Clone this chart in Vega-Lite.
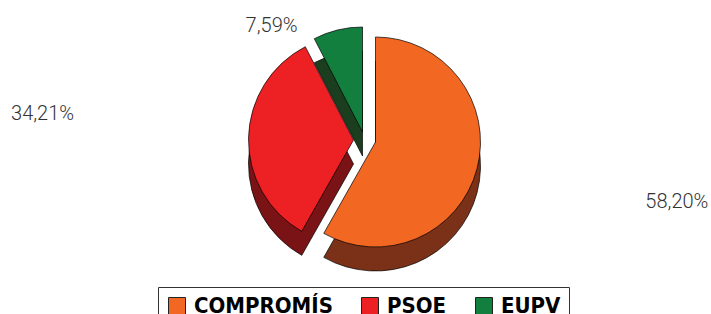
{
  "$schema": "https://vega.github.io/schema/vega-lite/v6.json",
  "autosize": {"type": "none"},
  "width": 711,
  "height": 280,
  "padding": {"left": 10, "right": 0, "top": 0, "bottom": 34},
  "background": "white",
  "data": {
    "values": [
      {"party": "COMPROMÍS", "value": 58.20, "label": "58,20%", "order": 1},
      {"party": "PSOE", "value": 34.21, "label": "34,21%", "order": 2},
      {"party": "EUPV", "value": 7.59, "label": "7,59%", "order": 3}
    ]
  },
  "transform": [
    {"stack": "value", "groupby": [], "sort": [{"field": "order"}], "as": ["t0", "t1"]}
  ],
  "layer": [
    {
      "transform": [{"filter": "datum.party == 'COMPROMÍS'"}],
      "mark": {"type": "arc", "outerRadius": 105, "fill": "#7B3118", "stroke": "black", "strokeWidth": 0.7, "xOffset": 10, "yOffset": 26},
      "encoding": {
        "theta": {"field": "t0", "type": "quantitative", "scale": {"domain": [0, 100]}},
        "theta2": {"field": "t1"}
      }
    },
    {
      "transform": [{"filter": "datum.party == 'PSOE'"}],
      "mark": {"type": "arc", "outerRadius": 105, "fill": "#7A1315", "stroke": "black", "strokeWidth": 0.7, "xOffset": -12, "yOffset": 24},
      "encoding": {
        "theta": {"field": "t0", "type": "quantitative", "scale": {"domain": [0, 100]}},
        "theta2": {"field": "t1"}
      }
    },
    {
      "transform": [{"filter": "datum.party == 'EUPV'"}],
      "mark": {"type": "arc", "outerRadius": 105, "fill": "#1B3F1E", "stroke": "black", "strokeWidth": 0.7, "xOffset": -3, "yOffset": 16},
      "encoding": {
        "theta": {"field": "t0", "type": "quantitative", "scale": {"domain": [0, 100]}},
        "theta2": {"field": "t1"}
      }
    },
    {
      "transform": [{"filter": "datum.party == 'COMPROMÍS'"}],
      "mark": {"type": "arc", "outerRadius": 105, "stroke": "black", "strokeWidth": 0.7, "xOffset": 10, "yOffset": 2},
      "encoding": {
        "theta": {"field": "t0", "type": "quantitative", "scale": {"domain": [0, 100]}},
        "theta2": {"field": "t1"},
        "color": {"field": "party", "type": "nominal", "scale": {"domain": ["COMPROMÍS", "PSOE", "EUPV"], "range": ["#F26722", "#ED2024", "#127F3E"]}, "title": null}
      }
    },
    {
      "transform": [{"filter": "datum.party == 'PSOE'"}],
      "mark": {"type": "arc", "outerRadius": 105, "stroke": "black", "strokeWidth": 0.7, "xOffset": -12, "yOffset": 0},
      "encoding": {
        "theta": {"field": "t0", "type": "quantitative", "scale": {"domain": [0, 100]}},
        "theta2": {"field": "t1"},
        "color": {"field": "party", "type": "nominal", "scale": {"domain": ["COMPROMÍS", "PSOE", "EUPV"], "range": ["#F26722", "#ED2024", "#127F3E"]}, "title": null}
      }
    },
    {
      "transform": [{"filter": "datum.party == 'EUPV'"}],
      "mark": {"type": "arc", "outerRadius": 105, "stroke": "black", "strokeWidth": 0.7, "xOffset": -3, "yOffset": -8},
      "encoding": {
        "theta": {"field": "t0", "type": "quantitative", "scale": {"domain": [0, 100]}},
        "theta2": {"field": "t1"},
        "color": {"field": "party", "type": "nominal", "scale": {"domain": ["COMPROMÍS", "PSOE", "EUPV"], "range": ["#F26722", "#ED2024", "#127F3E"]}, "title": null}
      }
    },
    {
      "mark": {"type": "text", "radius": 322, "dy": -20, "font": "Roboto", "fontWeight": 300, "fontSize": 20, "color": "#333333"},
      "encoding": {
        "theta": {"field": "value", "type": "quantitative", "stack": true, "scale": {"domain": [0, 100]}},
        "order": {"field": "order", "type": "quantitative"},
        "text": {"condition": {"test": "datum.party == 'COMPROMÍS'", "field": "label", "type": "nominal"}, "value": ""}
      }
    },
    {
      "mark": {"type": "text", "radius": 323, "dy": -20, "font": "Roboto", "fontWeight": 300, "fontSize": 20, "color": "#333333"},
      "encoding": {
        "theta": {"field": "value", "type": "quantitative", "stack": true, "scale": {"domain": [0, 100]}},
        "order": {"field": "order", "type": "quantitative"},
        "text": {"condition": {"test": "datum.party == 'PSOE'", "field": "label", "type": "nominal"}, "value": ""}
      }
    },
    {
      "mark": {"type": "text", "radius": 114, "dx": -67, "dy": -3, "font": "Roboto", "fontWeight": 300, "fontSize": 20, "color": "#333333"},
      "encoding": {
        "theta": {"field": "value", "type": "quantitative", "stack": true, "scale": {"domain": [0, 100]}},
        "order": {"field": "order", "type": "quantitative"},
        "text": {"condition": {"test": "datum.party == 'EUPV'", "field": "label", "type": "nominal"}, "value": ""}
      }
    }
  ],
  "config": {
    "view": {"stroke": null},
    "legend": {
      "orient": "none",
      "legendX": 148,
      "legendY": 287,
      "direction": "horizontal",
      "strokeColor": "#333333",
      "fillColor": "white",
      "padding": 8,
      "labelFont": "DejaVu Sans Condensed",
      "labelFontSize": 22,
      "labelFontWeight": "bold",
      "labelColor": "black",
      "labelLimit": 300,
      "labelBaseline": "middle",
      "symbolType": "square",
      "symbolSize": 289,
      "symbolStrokeColor": "#222222",
      "symbolStrokeWidth": 1,
      "symbolOpacity": 1,
      "columnPadding": 26,
      "labelOffset": 6
    }
  }
}
